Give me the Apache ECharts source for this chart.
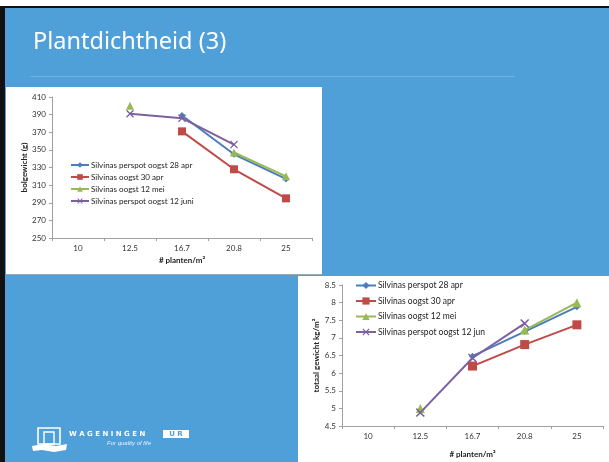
<!DOCTYPE html>
<html><head><meta charset="utf-8">
<script src="https://cdn.jsdelivr.net/npm/echarts@6/dist/echarts.min.js"></script>
<style>html,body{margin:0;padding:0;background:#fff}#c{width:609px;height:462px}</style>
</head><body><div id="c"></div>
<script>
// ---- data ----
const categories = ['10', '12.5', '16.7', '20.8', '25'];
// chart 1: bolgewicht (g)
const c1Names = ['Silvinas perspot oogst 28 apr', 'Silvinas oogst 30 apr', 'Silvinas oogst 12 mei', 'Silvinas perspot oogst 12 juni'];
const c1Perspot28apr = [null, null, 389, 345, 317];
const c1Oogst30apr = [null, null, 371, 328, 295];
const c1Oogst12mei = [null, 400, null, 347, 320];
const c1Perspot12jun = [null, 391, 386, 356, null];
// chart 2: totaal gewicht kg/m2
const c2Names = ['Silvinas perspot 28 apr', 'Silvinas oogst 30 apr', 'Silvinas oogst 12 mei', 'Silvinas perspot oogst 12 jun'];
const c2Perspot28apr = [null, null, 6.48, 7.18, 7.88];
const c2Oogst30apr = [null, null, 6.2, 6.81, 7.37];
const c2Oogst12mei = [null, 5.0, null, 7.22, 8.0];
const c2Perspot12jun = [null, 4.88, 6.43, 7.41, null];
const c1Ticks = {min: 250, max: 410, interval: 20};
const c2Ticks = {min: 4.5, max: 8.5, interval: 0.5};

// ---- styles ----
const colors = ['#4a7ebb', '#be4b48', '#98b954', '#7d60a0'];
const xPath = 'path://M0,1.2L1.2,0L5,3.8L8.8,0L10,1.2L6.2,5L10,8.8L8.8,10L5,6.2L1.2,10L0,8.8L3.8,5Z';
const symbols = ['diamond', 'rect', 'triangle', xPath];
const symSizes1 = [7, 8, 8, 8];
const symSizes2 = [7, 9, 9, 9];
const BLUE = '#4f9fd8';
const FONT = 'Lato, "Open Sans", sans-serif';

function mkSeries(names, datas, idx, sizes) {
  return datas.map((d, i) => ({
    name: names[i], type: 'line', data: d, xAxisIndex: idx, yAxisIndex: idx,
    symbol: symbols[i], symbolSize: sizes[i], showSymbol: true,
    connectNulls: false, animation: false,
    itemStyle: {color: colors[i]}, lineStyle: {color: colors[i], width: 2}
  }));
}
function xAxis(idx, gap) {
  return {type: 'category', data: categories, gridIndex: idx, boundaryGap: true,
    axisLine: {lineStyle: {color: '#a0a0a0', width: 1}},
    axisTick: {show: true, alignWithLabel: false, length: 3, lineStyle: {color: '#a0a0a0'}},
    axisLabel: {color: '#333', fontSize: 8, fontFamily: FONT, margin: 6},
    splitLine: {show: false},
    name: '# planten/m²', nameLocation: 'middle', nameGap: gap,
    nameTextStyle: {color: '#222', fontSize: 8, fontWeight: 'bold', fontFamily: FONT}};
}
function yAxis(idx, t, name, gap) {
  return {type: 'value', gridIndex: idx, min: t.min, max: t.max, interval: t.interval,
    axisLine: {show: true, lineStyle: {color: '#a0a0a0', width: 1}},
    axisTick: {show: true, length: 3, lineStyle: {color: '#a0a0a0'}},
    axisLabel: {color: '#333', fontSize: 8, fontFamily: FONT, margin: 6},
    splitLine: {show: false},
    name: name, nameLocation: 'middle', nameGap: gap, nameRotate: 90,
    nameTextStyle: {color: '#222', fontSize: 8, fontWeight: 'bold', fontFamily: FONT}};
}

const chart = echarts.init(document.getElementById('c'), null, {renderer: 'canvas'});
chart.setOption({
  animation: false,
  backgroundColor: '#ffffff',
  graphic: [
    {type: 'rect', z: -10, shape: {x: 0, y: 7, width: 609, height: 455}, style: {fill: BLUE}},
    {type: 'rect', z: -9, shape: {x: 0, y: 6, width: 609, height: 2}, style: {fill: '#111'}},
    {type: 'rect', z: -9, shape: {x: 0, y: 6, width: 5, height: 456}, style: {fill: '#111'}},
    {type: 'text', z: -8, style: {x: 33, y: 42, text: 'Plantdichtheid (3)', fill: '#ffffff',
      font: '23.5px "Noto Sans", "Open Sans", sans-serif', textVerticalAlign: 'middle'}},
    {type: 'rect', z: -8, shape: {x: 30, y: 76, width: 485, height: 1}, style: {fill: '#6fb2e2'}},
    {type: 'rect', z: -7, shape: {x: 6, y: 87, width: 316, height: 187}, style: {fill: '#ffffff'}},
    {type: 'rect', z: -7, shape: {x: 6, y: 274, width: 316, height: 1}, style: {fill: '#9aa8b4'}},
    {type: 'rect', z: -7, shape: {x: 298, y: 276, width: 311, height: 186}, style: {fill: '#ffffff'}},
    // logo
    {type: 'rect', z: -6, shape: {x: 38, y: 428, width: 22, height: 16}, style: {fill: 'none', stroke: '#fff', lineWidth: 1.6}},
    {type: 'rect', z: -6, shape: {x: 44, y: 432, width: 10, height: 12}, style: {fill: 'none', stroke: '#fff', lineWidth: 1.4}},
    {type: 'polygon', z: -6, shape: {points: [[32, 446], [44, 444], [56, 446], [67, 444], [66, 450], [54, 452], [42, 450], [33, 451]]}, style: {fill: '#fff'}},
    {type: 'text', z: -6, style: {x: 69, y: 434, text: 'W A G E N I N G E N', fill: '#fff',
      font: 'bold 7px "DejaVu Sans", sans-serif', textVerticalAlign: 'middle'}},
    {type: 'rect', z: -6, shape: {x: 163, y: 430, width: 26, height: 8}, style: {fill: '#fff'}},
    {type: 'text', z: -5, style: {x: 176, y: 434, text: 'U R', fill: BLUE,
      font: 'bold 7px "DejaVu Sans", sans-serif', textAlign: 'center', textVerticalAlign: 'middle'}},
    {type: 'text', z: -6, style: {x: 107, y: 443, text: 'For quality of life', fill: '#e8f2fb',
      font: 'italic 6px "Liberation Sans", sans-serif', textVerticalAlign: 'middle'}}
  ],
  grid: [
    {left: 52, top: 97, width: 260, height: 141, containLabel: false},
    {left: 342, top: 285, width: 261, height: 141, containLabel: false}
  ],
  xAxis: [xAxis(0, 18), xAxis(1, 24)],
  yAxis: [yAxis(0, c1Ticks, 'bolgewicht (g)', 24), yAxis(1, c2Ticks, 'totaal gewicht kg/m²', 22)],
  legend: [
    {data: c1Names, orient: 'vertical', left: 70, top: 161, itemWidth: 18, itemHeight: 7, itemGap: 4,
      textStyle: {fontSize: 8, color: '#222', fontFamily: FONT, padding: [0, 0, 0, -3]}, padding: 0},
    {data: c2Names, orient: 'vertical', left: 355, top: 281, itemWidth: 20, itemHeight: 9, itemGap: 6.5,
      textStyle: {fontSize: 8.5, color: '#222', fontFamily: FONT, padding: [0, 0, 0, -3]}, padding: 0}
  ],
  series: [
    ...mkSeries(c1Names, [c1Perspot28apr, c1Oogst30apr, c1Oogst12mei, c1Perspot12jun], 0, symSizes1),
    ...mkSeries(c2Names, [c2Perspot28apr, c2Oogst30apr, c2Oogst12mei, c2Perspot12jun], 1, symSizes2)
  ]
});
</script></body></html>
